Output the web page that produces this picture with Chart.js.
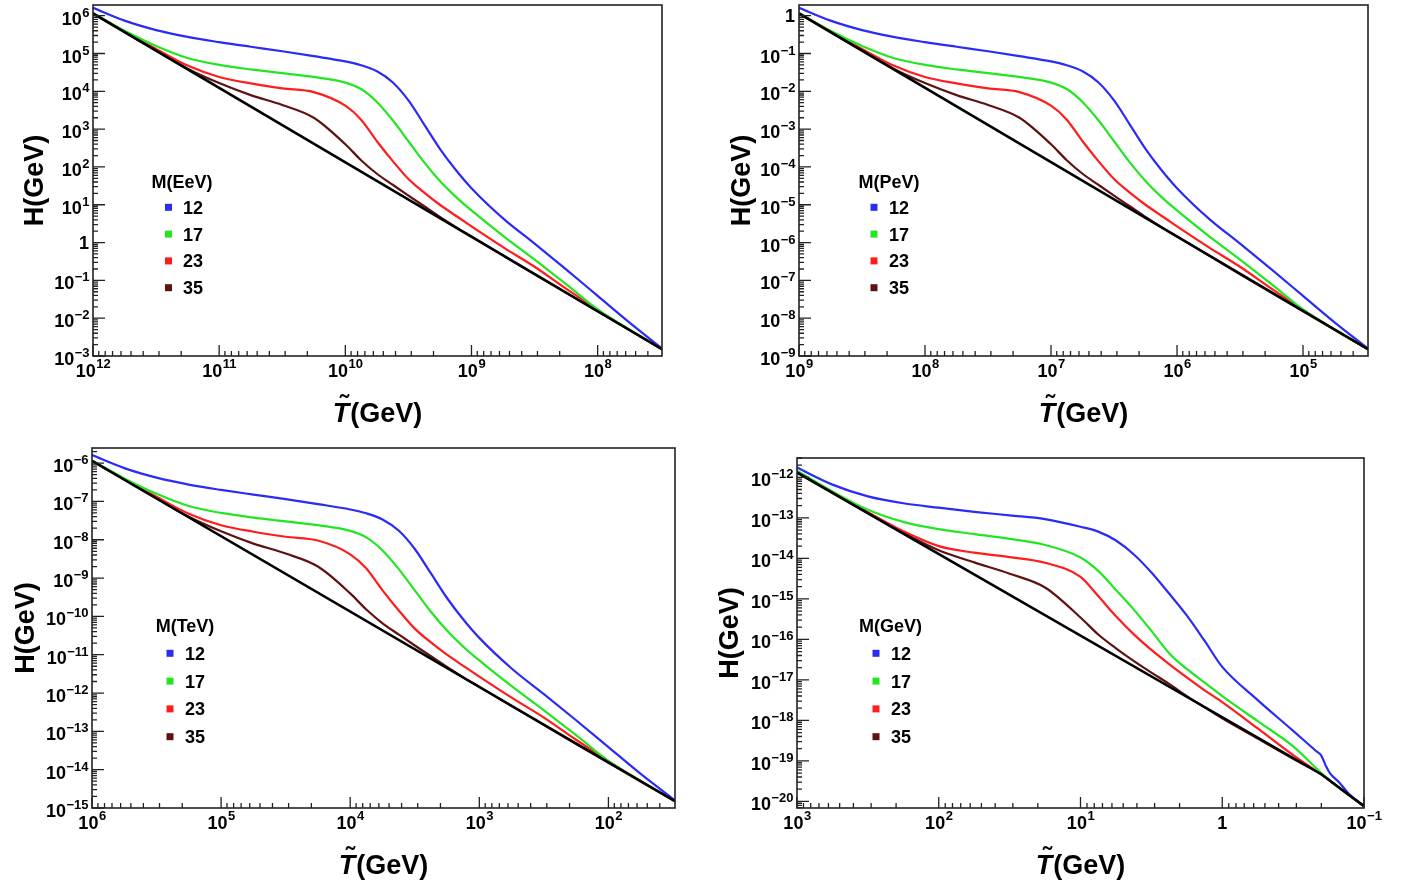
<!DOCTYPE html>
<html>
<head>
<meta charset="utf-8">
<title>H versus T for four mass scales</title>
<script src="https://cdn.jsdelivr.net/npm/chart.js@4.4.1/dist/chart.umd.min.js"></script>
<style>
  html, body { margin: 0; padding: 0; background: #fff; }
  #page { position: relative; width: 1403px; height: 888px; overflow: hidden; }
  canvas { position: absolute; }
</style>
</head>
<body>
<div id="page">
  <canvas id="c1" width="700" height="440" style="left:0;top:0"></canvas>
  <canvas id="c2" width="703" height="440" style="left:700px;top:0"></canvas>
  <canvas id="c3" width="700" height="448" style="left:0;top:440px"></canvas>
  <canvas id="c4" width="703" height="448" style="left:700px;top:440px"></canvas>
</div>
<script>
// legend entries (M values) shared by the four panels
const masses = ['12', '17', '23', '35'];

// panel 1 : M in EeV  (T and H in GeV)
const tEeV = [1e12, 5.62e11, 3.16e11, 1.78e11, 1e11, 5.62e10, 3.16e10, 1.78e10, 1e10, 7.5e9, 5.62e9, 4.22e9,
  3.16e9, 2.37e9, 1.78e9, 1.33e9, 1e9, 5.62e8, 3.16e8, 1.78e8, 1e8, 5.62e7, 3.09e7];
const hEeV12 = [1.62e6, 7.41e5, 4.17e5, 2.75e5, 2.00e5, 1.51e5, 1.15e5, 8.51e4, 6.17e4, 4.90e4, 3.39e4, 1.74e4,
  5.75e3, 1.32e3, 302, 83.2, 27.5, 4.37, 0.933, 0.195, 0.0389, 7.76e-3, 1.58e-3];
const hEeV17 = [1.17e6, 3.98e5, 1.58e5, 7.59e4, 5.01e4, 3.80e4, 3.02e4, 2.40e4, 1.70e4, 1.15e4, 5.25e3, 1.74e3,
  479, 132, 42.7, 16.2, 7.08, 1.51, 0.355, 0.0794, 0.0170, 5.01e-3, 1.51e-3];
const hEeV23 = [1.15e6, 3.80e5, 1.32e5, 4.79e4, 2.40e4, 1.62e4, 1.20e4, 9.55e3, 4.17e3, 1.78e3, 479, 145,
  47.9, 20.9, 10.0, 5.13, 2.69, 0.759, 0.229, 0.0603, 0.0166, 4.90e-3, 1.51e-3];
const hEeV35 = [1.15e6, 3.72e5, 1.20e5, 3.98e4, 1.66e4, 7.94e3, 4.37e3, 2.00e3, 398, 151, 66.1, 33.9,
  17.4, 9.12, 4.79, 2.57, 1.45, 0.457, 0.145, 0.0468, 0.0151, 4.90e-3, 1.51e-3];
const tEeVRad = [1e12, 3.09e7];
const hEeVRad = [1.15e6, 1.51e-3];

// panel 2 : M in PeV
const tPeV = [1e9, 5.62e8, 3.16e8, 1.78e8, 1e8, 5.62e7, 3.16e7, 1.78e7, 1e7, 7.5e6, 5.62e6, 4.22e6,
  3.16e6, 2.37e6, 1.78e6, 1.33e6, 1e6, 5.62e5, 3.16e5, 1.78e5, 1e5, 5.62e4, 3.05e4];
const hPeV12 = [1.62, 0.741, 0.417, 0.275, 0.200, 0.151, 0.115, 0.0851, 0.0617, 0.0490, 0.0339, 0.0174,
  5.75e-3, 1.32e-3, 3.02e-4, 8.32e-5, 2.75e-5, 4.37e-6, 9.33e-7, 1.95e-7, 3.89e-8, 7.76e-9, 1.58e-9];
const hPeV17 = [1.17, 0.398, 0.158, 0.0759, 0.0501, 0.0380, 0.0302, 0.0240, 0.0170, 0.0115, 5.25e-3, 1.74e-3,
  4.79e-4, 1.32e-4, 4.27e-5, 1.62e-5, 7.08e-6, 1.51e-6, 3.55e-7, 7.94e-8, 1.70e-8, 5.01e-9, 1.51e-9];
const hPeV23 = [1.15, 0.380, 0.132, 0.0479, 0.0240, 0.0162, 0.0120, 9.55e-3, 4.17e-3, 1.78e-3, 4.79e-4, 1.45e-4,
  4.79e-5, 2.09e-5, 1.00e-5, 5.13e-6, 2.69e-6, 7.59e-7, 2.29e-7, 6.03e-8, 1.66e-8, 4.90e-9, 1.51e-9];
const hPeV35 = [1.15, 0.372, 0.120, 0.0398, 0.0166, 7.94e-3, 4.37e-3, 2.00e-3, 3.98e-4, 1.51e-4, 6.61e-5, 3.39e-5,
  1.74e-5, 9.12e-6, 4.79e-6, 2.57e-6, 1.45e-6, 4.57e-7, 1.45e-7, 4.68e-8, 1.51e-8, 4.90e-9, 1.51e-9];
const tPeVRad = [1e9, 3.05e4];
const hPeVRad = [1.15, 1.51e-9];

// panel 3 : M in TeV
const tTeV = [1e6, 5.62e5, 3.16e5, 1.78e5, 1e5, 5.62e4, 3.16e4, 1.78e4, 1e4, 7.5e3, 5.62e3, 4.22e3,
  3.16e3, 2.37e3, 1.78e3, 1.33e3, 1e3, 562, 316, 178, 100, 56.2, 30.5];
const hTeV12 = [1.62e-6, 7.41e-7, 4.17e-7, 2.75e-7, 2.00e-7, 1.51e-7, 1.15e-7, 8.51e-8, 6.17e-8, 4.90e-8, 3.39e-8, 1.74e-8,
  5.75e-9, 1.32e-9, 3.02e-10, 8.32e-11, 2.75e-11, 4.37e-12, 9.33e-13, 1.95e-13, 3.89e-14, 7.76e-15, 1.58e-15];
const hTeV17 = [1.17e-6, 3.98e-7, 1.58e-7, 7.59e-8, 5.01e-8, 3.80e-8, 3.02e-8, 2.40e-8, 1.70e-8, 1.15e-8, 5.25e-9, 1.74e-9,
  4.79e-10, 1.32e-10, 4.27e-11, 1.62e-11, 7.08e-12, 1.51e-12, 3.55e-13, 7.94e-14, 1.70e-14, 5.01e-15, 1.51e-15];
const hTeV23 = [1.15e-6, 3.80e-7, 1.32e-7, 4.79e-8, 2.40e-8, 1.62e-8, 1.20e-8, 9.55e-9, 4.17e-9, 1.78e-9, 4.79e-10, 1.45e-10,
  4.79e-11, 2.09e-11, 1.00e-11, 5.13e-12, 2.69e-12, 7.59e-13, 2.29e-13, 6.03e-14, 1.66e-14, 4.90e-15, 1.51e-15];
const hTeV35 = [1.15e-6, 3.72e-7, 1.20e-7, 3.98e-8, 1.66e-8, 7.94e-9, 4.37e-9, 2.00e-9, 3.98e-10, 1.51e-10, 6.61e-11, 3.39e-11,
  1.74e-11, 9.12e-12, 4.79e-12, 2.57e-12, 1.45e-12, 4.57e-13, 1.45e-13, 4.68e-14, 1.51e-14, 4.90e-15, 1.51e-15];
const tTeVRad = [1e6, 30.5];
const hTeVRad = [1.15e-6, 1.51e-15];

// panel 4 : M in GeV (kink near T ~ 0.2 GeV)
const tGeV = [1000, 562, 316, 178, 100, 56.2, 31.6, 17.8, 10, 7.5, 5.62, 4.22, 3.16, 2.37, 1.78, 1.33,
  1, 0.562, 0.316, 0.219, 0.2, 0.186, 0.174, 0.148, 0.126, 0.1];
const hGeV12 = [1.74e-12, 6.61e-13, 3.39e-13, 2.29e-13, 1.78e-13, 1.41e-13, 1.15e-13, 9.33e-14, 6.03e-14, 4.57e-14, 2.75e-14, 1.26e-14,
  4.47e-15, 1.35e-15, 3.89e-16, 9.12e-17, 2.09e-17, 3.16e-18, 5.50e-19, 1.78e-19, 1.35e-19, 7.59e-20, 5.01e-20, 2.82e-20, 1.45e-20, 7.76e-21];
const hGeV17 = [1.45e-12, 4.47e-13, 1.58e-13, 7.94e-14, 5.25e-14, 3.98e-14, 3.02e-14, 2.14e-14, 1.05e-14, 4.90e-15, 1.66e-15, 5.50e-16,
  1.62e-16, 4.57e-17, 1.86e-17, 8.51e-18, 3.98e-18, 9.55e-19, 2.29e-19, 6.76e-20, 5.01e-20, 3.89e-20, 3.24e-20, 2.09e-20, 1.38e-20, 7.59e-21];
const hGeV23 = [1.32e-12, 4.27e-13, 1.38e-13, 4.68e-14, 2.00e-14, 1.38e-14, 1.07e-14, 7.76e-15, 3.47e-15, 1.17e-15, 3.72e-16, 1.35e-16,
  5.50e-17, 2.45e-17, 1.15e-17, 5.50e-18, 2.82e-18, 6.31e-19, 1.38e-19, 5.75e-20, 4.68e-20, 3.89e-20, 3.24e-20, 2.09e-20, 1.38e-20, 7.59e-21];
const hGeV35 = [1.32e-12, 4.17e-13, 1.32e-13, 4.27e-14, 1.58e-14, 7.94e-15, 4.17e-15, 1.91e-15, 3.47e-16, 1.32e-16, 6.03e-17, 2.95e-17,
  1.51e-17, 7.94e-18, 3.98e-18, 2.09e-18, 1.12e-18, 3.55e-19, 1.12e-19, 5.62e-20, 4.68e-20, 3.89e-20, 3.24e-20, 2.09e-20, 1.38e-20, 7.59e-21];
const tGeVRad = [1000, 0.2, 0.1];
const hGeVRad = [1.32e-12, 4.68e-20, 7.59e-21];

// ---- styling / layout ----
const FONT = '"Liberation Sans", Arial, Helvetica, sans-serif';
const colours = ['#2b2bf5', '#22e622', '#ff1c1c', '#5e1212'];

// chart areas and legend spots, in canvas pixels
const layout = {
  c1: { pad: { left: 93, top: 5, right: 38, bottom: 84 }, x: [3.09e7, 1e12], y: [1e-3, 1.92e6],
    yTitle: -50, legend: { title: 'M(EeV)', tx: 89, ty: 176, sx: 75.5, lx: 90, y0: 202.3, dy: 26.8 } },
  c2: { pad: { left: 99, top: 5, right: 35, bottom: 84 }, x: [3.05e4, 1e9], y: [1e-9, 1.92],
    yTitle: -49, legend: { title: 'M(PeV)', tx: 90, ty: 176, sx: 75, lx: 90, y0: 202.3, dy: 26.8 } },
  c3: { pad: { left: 92, top: 8, right: 25, bottom: 80 }, x: [30.5, 1e6], y: [1e-15, 2.48e-6],
    yTitle: -58, legend: { title: 'M(TeV)', tx: 93, ty: 177, sx: 78, lx: 93, y0: 205.3, dy: 27.8 } },
  c4: { pad: { left: 97, top: 18, right: 39, bottom: 80 }, x: [0.1, 1000], y: [6.87e-21, 3.0e-12],
    yTitle: -59, legend: { title: 'M(GeV)', tx: 93.5, ty: 167.7, sx: 79, lx: 94, y0: 195.3, dy: 27.8 } }
};

function logTicks(min, max) {
  const out = [];
  const e0 = Math.floor(Math.log10(min)), e1 = Math.ceil(Math.log10(max));
  for (let e = e0; e <= e1; e++) {
    for (let m = 1; m <= 9; m++) {
      const v = m * Math.pow(10, e);
      if (v >= min * 0.9999 && v <= max * 1.0001) out.push({ v, e, major: m === 1 });
    }
  }
  return out;
}

// "10" with a raised exponent, like the original tick labels
function powerLabel(ctx, e, x, y, axis) {
  const big = 'bold 18px ' + FONT, small = 'bold 13px ' + FONT;
  ctx.textBaseline = 'alphabetic';
  ctx.textAlign = 'left';
  ctx.fillStyle = '#000';
  if (e === 0) {
    ctx.font = big;
    const w = ctx.measureText('1').width;
    if (axis === 'x') ctx.fillText('1', x - w / 2, y + 21);
    else ctx.fillText('1', x - w, y + 6.5);
    return;
  }
  const sup = e < 0 ? '\u2212' + (-e) : String(e);
  ctx.font = big;
  const w1 = ctx.measureText('10').width;
  ctx.font = small;
  const w2 = ctx.measureText(sup).width;
  let x0, b1, b2;
  if (axis === 'x') { x0 = x - (w1 + w2) / 2; b1 = y + 21; b2 = y + 12; }
  else { x0 = x - w1 - w2; b1 = y + 9; b2 = y + 1; }
  ctx.font = big;
  ctx.fillText('10', x0, b1);
  ctx.font = small;
  ctx.fillText(sup, x0 + w1 + 0.5, b2);
}

const framePlugin = {
  id: 'frame',
  afterDatasetsDraw(chart) {
    const lay = layout[chart.canvas.id];
    const ctx = chart.ctx, a = chart.chartArea;
    const xs = chart.scales.x, ys = chart.scales.y;
    const xt = logTicks(xs.min, xs.max), yt = logTicks(ys.min, ys.max);
    ctx.save();

    // box + inward ticks on bottom and left
    ctx.strokeStyle = '#222';
    ctx.lineWidth = 1.6;
    ctx.strokeRect(a.left, a.top, a.right - a.left, a.bottom - a.top);
    ctx.lineWidth = 1.3;
    ctx.beginPath();
    xt.forEach(t => {
      const px = xs.getPixelForValue(t.v);
      ctx.moveTo(px, a.bottom);
      ctx.lineTo(px, a.bottom - (t.major ? 11 : 5));
    });
    yt.forEach(t => {
      const py = ys.getPixelForValue(t.v);
      ctx.moveTo(a.left, py);
      ctx.lineTo(a.left + (t.major ? 12 : 5), py);
    });
    ctx.stroke();

    xt.filter(t => t.major).forEach(t => powerLabel(ctx, t.e, xs.getPixelForValue(t.v), a.bottom, 'x'));
    yt.filter(t => t.major).forEach(t => powerLabel(ctx, t.e, a.left - 4, ys.getPixelForValue(t.v), 'y'));

    // axis titles
    ctx.fillStyle = '#000';
    ctx.save();
    ctx.translate(a.left + lay.yTitle, (a.top + a.bottom) / 2);
    ctx.rotate(-Math.PI / 2);
    ctx.font = 'bold 27px ' + FONT;
    ctx.textAlign = 'center';
    ctx.textBaseline = 'alphabetic';
    ctx.fillText('H(GeV)', 0, 0);
    ctx.restore();

    const cx = (a.left + a.right) / 2, by = a.bottom + 66;
    ctx.textAlign = 'left';
    ctx.textBaseline = 'alphabetic';
    ctx.font = 'bold italic 27px ' + FONT;
    const wT = ctx.measureText('T').width;
    ctx.font = 'bold 27px ' + FONT;
    const wR = ctx.measureText('(GeV)').width;
    const x0 = cx - (wT + wR + 1) / 2;
    ctx.font = 'bold italic 27px ' + FONT;
    ctx.fillText('T', x0, by);
    ctx.font = 'bold 27px ' + FONT;
    ctx.fillText('(GeV)', x0 + wT + 1, by);
    ctx.textAlign = 'center';
    ctx.font = 'bold 26px ' + FONT;
    ctx.fillText('\u02DC', x0 + wT / 2 + 3, by - 9);

    // legend
    const lg = lay.legend;
    ctx.font = 'bold 18px ' + FONT;
    ctx.textAlign = 'center';
    ctx.fillText(lg.title, a.left + lg.tx, a.top + lg.ty + 6.5);
    ctx.textAlign = 'left';
    let k = 0;
    chart.data.datasets.forEach(ds => {
      if (!ds.label) return;
      const y = a.top + lg.y0 + k * lg.dy;
      ctx.fillStyle = ds.borderColor;
      ctx.fillRect(a.left + lg.sx - 3.5, y - 3.5, 7, 7);
      ctx.fillStyle = '#000';
      ctx.fillText(ds.label, a.left + lg.lx, y + 6.5);
      k++;
    });
    ctx.restore();
  }
};

function curve(t, h, label, colour) {
  return {
    label: label,
    data: t.map((x, i) => ({ x: x, y: h[i] })),
    borderColor: colour,
    backgroundColor: colour,
    borderWidth: 2.2,
    pointRadius: 0,
    fill: false,
    cubicInterpolationMode: 'monotone'
  };
}

function radiationLine(t, h) {
  return {
    label: '',
    data: t.map((x, i) => ({ x: x, y: h[i] })),
    borderColor: '#000',
    borderWidth: 2.6,
    pointRadius: 0,
    fill: false,
    tension: 0
  };
}

function makePanel(id, t, series, tRad, hRad) {
  const lay = layout[id];
  const datasets = [radiationLine(tRad, hRad)];
  series.forEach((h, i) => datasets.push(curve(t, h, masses[i], colours[i])));
  return new Chart(document.getElementById(id), {
    type: 'line',
    data: { datasets: datasets },
    options: {
      responsive: false,
      animation: false,
      devicePixelRatio: 1,
      layout: { padding: lay.pad },
      plugins: { legend: { display: false }, tooltip: { enabled: false }, title: { display: false } },
      scales: {
        x: { type: 'logarithmic', reverse: true, min: lay.x[0], max: lay.x[1], display: false },
        y: { type: 'logarithmic', min: lay.y[0], max: lay.y[1], display: false }
      }
    },
    plugins: [framePlugin]
  });
}

makePanel('c1', tEeV, [hEeV12, hEeV17, hEeV23, hEeV35], tEeVRad, hEeVRad);
makePanel('c2', tPeV, [hPeV12, hPeV17, hPeV23, hPeV35], tPeVRad, hPeVRad);
makePanel('c3', tTeV, [hTeV12, hTeV17, hTeV23, hTeV35], tTeVRad, hTeVRad);
makePanel('c4', tGeV, [hGeV12, hGeV17, hGeV23, hGeV35], tGeVRad, hGeVRad);
</script>
</body>
</html>
